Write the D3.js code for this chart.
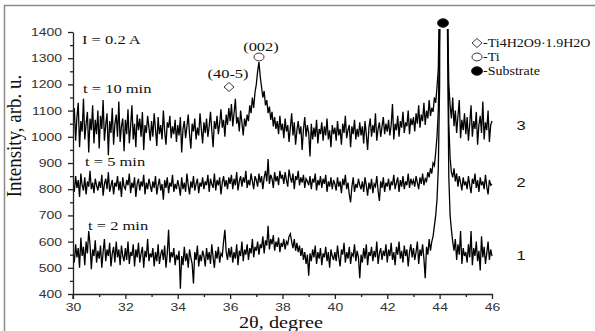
<!DOCTYPE html>
<html><head><meta charset="utf-8">
<script src="https://cdn.jsdelivr.net/npm/d3@7"></script>
<style>html,body{margin:0;padding:0;background:#fff;}svg{display:block;}</style>
</head><body>
<svg id="chart" width="595" height="331"></svg>
<script>
// 2θ sampling: 30.00 .. 46.00 deg, 0.05 deg step (321 points)
const thetaStart = 30, thetaStep = 0.05;
const xTicks = [30,32,34,36,38,40,42,44,46];
const yTicks = [400,500,600,700,800,900,1000,1100,1200,1300,1400];

// t = 10 min (curve 3)
const trace10 = [
1040,1110,985,1075,1130,960,1060,1020,1145,990,1050,1095,940,1070,1025,1120,975,1065,1010,1100,
955,1080,1030,1140,985,1045,1090,930,1060,1015,1110,970,1050,1085,1000,1135,980,1040,1070,945,
1065,1010,1105,975,1040,1120,990,1050,960,1085,1025,1070,1000,1095,950,1045,1015,1080,1035,985,
1060,1000,1090,1030,965,1075,1010,1045,990,1100,1020,970,1055,1035,1080,995,1040,1010,1065,980,
1045,1005,1075,940,1030,1060,995,1040,1085,1010,955,1050,1020,1070,990,1035,1005,1090,1030,975,
1055,1015,1070,1000,1040,1095,1025,960,1060,1030,1080,1010,1050,1105,1035,1065,1000,1085,1045,1110,
1060,1125,1040,1090,1145,1050,1075,1020,1100,1055,1005,1070,1040,1085,1060,1120,1090,1150,1110,1170,
1200,1250,1285,1230,1190,1150,1175,1120,1140,1090,1115,1065,1095,1040,1075,1030,1060,1010,1080,1025,
1050,995,1070,1020,1045,980,1035,1090,1005,1055,970,1025,1060,1010,1040,950,1030,1075,1000,1045,
1015,925,1050,990,1035,1000,1065,975,1030,1010,1055,985,1040,1005,1070,990,1025,960,1045,1010,
1035,985,1060,1005,1030,970,1050,1015,1080,995,1025,1045,960,1040,1010,1065,990,1030,1000,1055,
1005,1040,975,1060,1010,950,1035,1070,1000,1045,1015,1090,985,1030,1055,1000,1040,1075,1010,1050,
1020,1065,1005,1045,1125,990,1050,1025,1080,1000,1060,1035,1095,1015,1055,1040,1100,1010,1070,1045,
1075,1020,1090,1050,1120,1035,1085,1060,1130,1045,1100,1070,1140,1080,1110,1095,1150,1130,1190,1260,
1600,3000,4000,4000,4000,3000,1500,1200,1120,1070,1150,1040,1100,1015,1080,1140,995,1065,1025,1090,
1010,1075,985,1050,1120,1000,1060,1030,1095,970,1045,1080,1015,1135,990,1055,1025,1100,980,1045,
1060];

// t = 5 min (curve 2)
const trace5 = [
820,790,850,805,835,770,860,815,795,845,780,830,810,870,800,825,785,840,815,795,
830,805,855,775,820,840,800,865,790,815,835,780,825,810,850,795,830,770,845,810,
800,835,815,860,785,825,805,845,770,820,840,795,830,810,855,780,825,800,840,815,
790,830,805,850,780,815,840,795,820,760,835,805,845,785,825,810,855,790,820,800,
835,810,775,845,800,825,790,860,815,780,830,805,850,795,820,840,785,825,810,845,
800,830,815,855,790,840,820,805,860,795,835,815,845,780,825,850,810,835,800,845,
820,855,800,840,815,865,795,830,850,810,845,825,870,805,835,815,860,830,800,850,
835,810,860,825,850,800,845,870,830,915,820,855,840,805,865,830,850,815,870,840,
855,820,865,835,810,875,845,825,860,800,850,835,870,815,845,825,855,805,840,830,
815,850,800,840,825,860,795,835,815,850,805,840,820,855,790,830,810,845,800,835,
820,795,845,810,830,785,840,815,855,800,825,780,750,810,845,790,820,805,840,815,
800,830,790,845,815,775,825,800,840,785,820,810,850,795,755,830,805,845,790,825,
810,840,795,830,815,855,800,825,845,790,835,810,850,800,830,815,860,805,840,820,
835,810,850,825,800,845,820,860,815,840,830,865,845,880,860,900,890,940,1000,1100,
1400,3000,4000,4000,4000,3000,1500,1050,920,865,845,880,830,860,810,850,825,795,845,815,
830,800,850,815,785,840,820,860,805,835,790,845,815,830,800,855,810,780,835,815,
820];

// t = 2 min (curve 1)
const trace2 = [
560,520,590,540,575,500,615,545,580,510,600,555,640,590,495,570,545,605,520,565,
535,585,500,560,610,525,570,545,595,505,555,580,520,600,540,570,510,585,545,525,
575,530,600,515,560,545,590,505,570,540,595,520,555,580,500,565,540,610,525,555,
540,575,505,560,525,590,515,550,570,530,585,500,555,645,520,560,540,575,510,550,
530,565,420,545,510,580,525,555,500,570,540,515,440,560,530,585,505,550,525,565,
545,505,575,530,560,515,590,540,500,565,535,580,520,555,545,600,645,560,530,575,
540,580,520,560,535,590,510,565,545,600,525,570,550,590,530,575,555,610,540,580,
565,600,550,590,575,620,555,605,585,660,570,610,590,625,565,600,580,615,560,595,
580,610,570,600,590,620,630,600,575,610,565,595,560,585,545,575,530,560,515,550,
470,555,525,570,540,585,515,560,535,575,510,555,540,580,525,560,500,570,545,530,
560,525,585,540,505,570,550,595,520,560,535,580,515,555,545,590,525,565,540,460,
550,520,575,535,590,510,560,545,580,525,565,540,600,515,555,575,530,565,545,590,
520,570,545,595,530,560,510,580,550,600,535,565,520,585,545,570,505,560,590,540,
575,530,560,600,515,570,545,590,535,460,580,550,610,565,600,620,660,700,760,880,
1200,3000,4000,4000,4000,3000,1400,850,700,645,600,565,610,530,590,550,640,515,575,545,
560,520,590,540,640,510,575,545,600,525,565,490,620,540,580,515,555,600,530,570,
545];

const seriesList = [
  {name:"3", values: trace10},
  {name:"2", values: trace5},
  {name:"1", values: trace2}
];

const svg = d3.select("#chart");
const X0 = 73, X1 = 492, Y0 = 294, Y1 = 32;
const SX = 1.27; // horizontal stretch of the original image's lettering
const x = d3.scaleLinear().domain([30,46]).range([X0,X1]);
const y = d3.scaleLinear().domain([400,1400]).range([Y0,Y1]);

// outer frame (top & left)
svg.append("path").attr("d","M4.5,331 L4.5,5.5 L595,5.5")
  .attr("fill","none").attr("stroke","#8a8a8a").attr("stroke-width",1.5);

svg.append("clipPath").attr("id","clip").append("rect")
  .attr("x",X0).attr("y",29).attr("width",X1-X0+1).attr("height",Y0-29);

const line = d3.line()
  .x((d,i)=>x(thetaStart + i*thetaStep))
  .y(d=>y(d));

const g = svg.append("g").attr("clip-path","url(#clip)");
seriesList.forEach(s=>{
  g.append("path").datum(s.values)
    .attr("d",line)
    .attr("fill","none")
    .attr("stroke","#000")
    .attr("stroke-width",1.3)
    .attr("stroke-linejoin","miter");
});

// axes
const axisColor = "#222";
const minorY = d3.range(450,1400,100);
const minorX = d3.range(31,46,2);

const yAx = svg.append("g").attr("transform",`translate(${X0},0)`)
  .call(d3.axisLeft(y).tickValues(yTicks).tickSize(5).tickPadding(6).tickSizeOuter(0).tickFormat(d3.format("d")));
const yMin = svg.append("g").attr("transform",`translate(${X0},0)`)
  .call(d3.axisLeft(y).tickValues(minorY).tickSize(3).tickFormat("").tickSizeOuter(0));
const xAx = svg.append("g").attr("transform",`translate(0,${Y0})`)
  .call(d3.axisBottom(x).tickValues(xTicks).tickSize(5).tickPadding(4).tickSizeOuter(0).tickFormat(d3.format("d")));
const xMin = svg.append("g").attr("transform",`translate(0,${Y0})`)
  .call(d3.axisBottom(x).tickValues(minorX).tickSize(3).tickFormat("").tickSizeOuter(0));
yMin.select(".domain").remove();
xMin.select(".domain").remove();
[yAx,yMin,xAx,xMin].forEach(a=>{
  a.selectAll("path,line").attr("stroke",axisColor).attr("stroke-width",1.3);
  a.selectAll("text").attr("font-family","'Liberation Sans',Arial,sans-serif")
    .attr("font-size",11).attr("fill","#333");
});
yAx.selectAll("text").attr("x",-11/SX).attr("transform",`scale(${SX},1)`);
xAx.selectAll("text").attr("transform",`scale(${SX},1)`);
// y axis continues a little below x axis as in the original
svg.append("line").attr("x1",X0).attr("x2",X0).attr("y1",Y0).attr("y2",Y0+5)
  .attr("stroke",axisColor).attr("stroke-width",1.3);

const serif = "'Liberation Serif','Times New Roman',serif";
function txt(t,x0,y0,size,opts={}){
  const sx = opts.sx || SX;
  return svg.append("text")
    .attr("transform",`translate(${x0},${y0})` + (opts.rot?` rotate(${opts.rot})`:"") + (opts.rot?` scale(1,1.12)`:` scale(${sx},1)`))
    .attr("text-anchor",opts.anchor||"start")
    .attr("font-family",opts.font||serif).attr("font-size",size)
    .attr("fill","#111").text(t);
}

// axis titles
txt("Intensity, arb. u.",21,136,19,{rot:-90,anchor:"middle"});
txt("2θ, degree",281,328,16,{anchor:"middle"});

// in-plot labels
const annos = [
  {t:"I = 0.2 A", x:82, y:44},
  {t:"t = 10 min", x:83, y:93},
  {t:"t = 5 min", x:85, y:166},
  {t:"t = 2 min", x:88, y:230},
  {t:"(40-5)", x:228, y:78, a:"middle"},
  {t:"(002)", x:261, y:51, a:"middle"}
];
annos.forEach(a=>txt(a.t,a.x,a.y,13,{anchor:a.a}));

// curve numbers
const numY = {"3":125, "2":182, "1":255};
seriesList.forEach(s=>{
  txt(s.name,521,numY[s.name]+5,13,{anchor:"middle",font:"'Liberation Sans',Arial,sans-serif"});
});

// markers
function diamond(cx,cy){
  svg.append("path").attr("d",`M${cx},${cy-4.5} L${cx+5},${cy} L${cx},${cy+4.5} L${cx-5},${cy} Z`)
    .attr("fill","#fff").attr("stroke","#222").attr("stroke-width",0.9);
}
function circ(cx,cy,filled){
  svg.append("ellipse").attr("cx",cx).attr("cy",cy).attr("rx",filled?5.5:5).attr("ry",filled?4.3:3.9)
    .attr("fill",filled?"#000":"#fff").attr("stroke","#222").attr("stroke-width",0.9);
}
diamond(229,87);
circ(259,57,false);
circ(443,23,true);

// legend
const legend = [
  {kind:"d", t:"-Ti4H2O9·1.9H2O", y:43},
  {kind:"o", t:"-Ti", y:57},
  {kind:"f", t:"-Substrate", y:71}
];
legend.forEach(l=>{
  if(l.kind==="d") diamond(477,l.y);
  else circ(477,l.y,l.kind==="f");
  txt(l.t,483,l.y+4,12,{sx:1.17});
});
</script>
</body></html>
